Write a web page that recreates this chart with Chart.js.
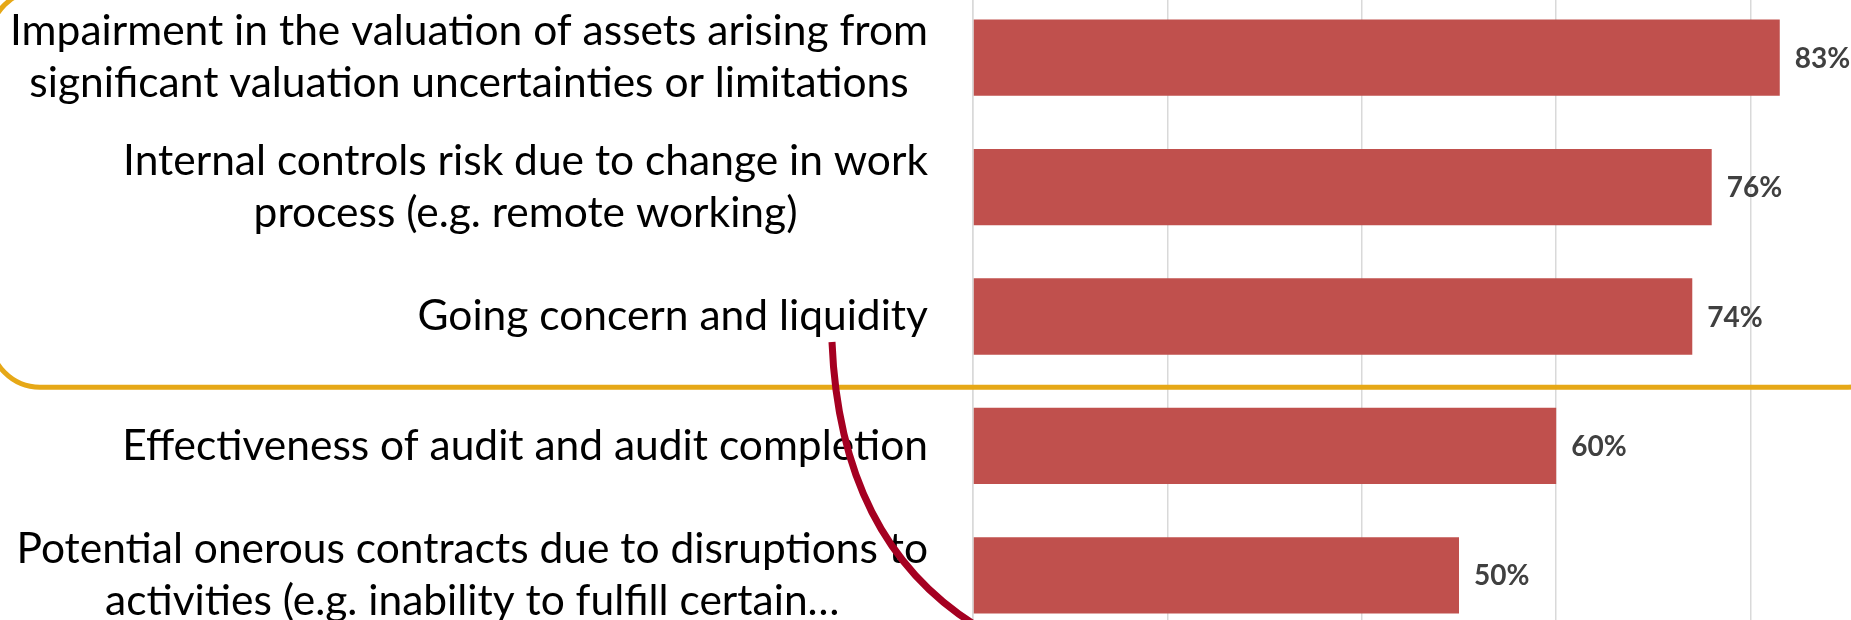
<!DOCTYPE html>
<html>
<head>
<meta charset="utf-8">
<script src="https://cdn.jsdelivr.net/npm/chart.js@4.4.0/dist/chart.umd.min.js"></script>
<style>
  html, body { margin: 0; padding: 0; background: #fff; overflow: hidden; width: 1851px; height: 620px; }
  #wrap { position: absolute; left: 0; top: -7px; width: 1945px; height: 647px; }
</style>
</head>
<body>
<div id="wrap"><canvas id="chart" width="1945" height="647"></canvas></div>
<script>
// Chart data
const categories = [
  ['Impairment in the valuation of assets arising from', 'significant valuation uncertainties or limitations'],
  ['Internal controls risk due to change in work', 'process (e.g. remote working)'],
  ['Going concern and liquidity'],
  ['Effectiveness of audit and audit completion'],
  ['Potential onerous contracts due to disruptions to', 'activities (e.g. inability to fulfill certain\u2026']
];
const shares = [83, 76, 74, 60, 50];
const xTicks = [0, 20, 40, 60, 80, 100];

// Styles
const barColor = '#C0504D';
const gridColor = '#D9D9D9';
const labelFont = 'Lato, "Open Sans", sans-serif';
const labelSize = 42.5;
const lineGap = 52;

// category labels: block right-aligned, lines centred inside the block
const blockLabels = {
  id: 'blockLabels',
  afterDraw(chart) {
    const ctx = chart.ctx, y = chart.scales.y;
    const right = y.right - 45;
    ctx.save();
    ctx.font = labelSize + 'px ' + labelFont;
    ctx.fillStyle = '#000000';
    ctx.textAlign = 'center';
    ctx.textBaseline = 'middle';
    chart.data.labels.forEach((lines, i) => {
      const w = Math.max(...lines.map(s => ctx.measureText(s).width));
      const cy = y.getPixelForValue(i);
      lines.forEach((s, k) => {
        ctx.fillText(s, right - w / 2, cy + (k - (lines.length - 1) / 2) * lineGap);
      });
    });
    ctx.restore();
  }
};

// value labels at the end of each bar
const valueLabels = {
  id: 'valueLabels',
  afterDatasetsDraw(chart) {
    const ctx = chart.ctx;
    const meta = chart.getDatasetMeta(0);
    ctx.save();
    ctx.font = 'bold 28px ' + labelFont;
    ctx.fillStyle = '#404040';
    ctx.textAlign = 'left';
    ctx.textBaseline = 'middle';
    meta.data.forEach((bar, i) => {
      ctx.fillText(chart.data.datasets[0].data[i] + '%', bar.x + 15, bar.y + 1);
    });
    ctx.restore();
  }
};

// highlight box round the top three items and the curved pointer line
const highlights = {
  id: 'highlights',
  afterDraw(chart) {
    const ctx = chart.ctx, y = chart.scales.y;
    const bottom = (y.getPixelForValue(2) + y.getPixelForValue(3)) / 2 + 6;
    ctx.save();
    ctx.strokeStyle = '#E6A817';
    ctx.lineWidth = 5;
    ctx.beginPath();
    ctx.roundRect(-10, -3, 1908, bottom + 3, 50);
    ctx.stroke();

    ctx.strokeStyle = '#A50021';
    ctx.lineWidth = 7;
    ctx.beginPath();
    ctx.moveTo(832, 349);
    ctx.quadraticCurveTo(840, 547, 975, 632);
    ctx.stroke();
    ctx.restore();
  }
};

new Chart(document.getElementById('chart'), {
  type: 'bar',
  data: {
    labels: categories,
    datasets: [{
      data: shares,
      backgroundColor: barColor,
      borderWidth: 0,
      categoryPercentage: 1,
      barPercentage: 0.59
    }]
  },
  options: {
    indexAxis: 'y',
    responsive: false,
    animation: false,
    events: [],
    layout: { padding: 0 },
    plugins: {
      legend: { display: false },
      tooltip: { enabled: false },
      title: { display: false }
    },
    scales: {
      x: {
        min: xTicks[0],
        max: xTicks[xTicks.length - 1],
        afterBuildTicks(scale) { scale.ticks = xTicks.map(v => ({ value: v })); },
        afterFit(scale) { scale.height = 0; },
        ticks: { display: false },
        grid: { color: gridColor, lineWidth: 1.5, drawTicks: false },
        border: { display: false }
      },
      y: {
        afterFit(scale) { scale.width = 973; },
        ticks: { display: false },
        grid: { display: false, drawTicks: false },
        border: { display: true, color: gridColor, width: 1.5 }
      }
    }
  },
  plugins: [blockLabels, valueLabels, highlights]
});
</script>
</body>
</html>
